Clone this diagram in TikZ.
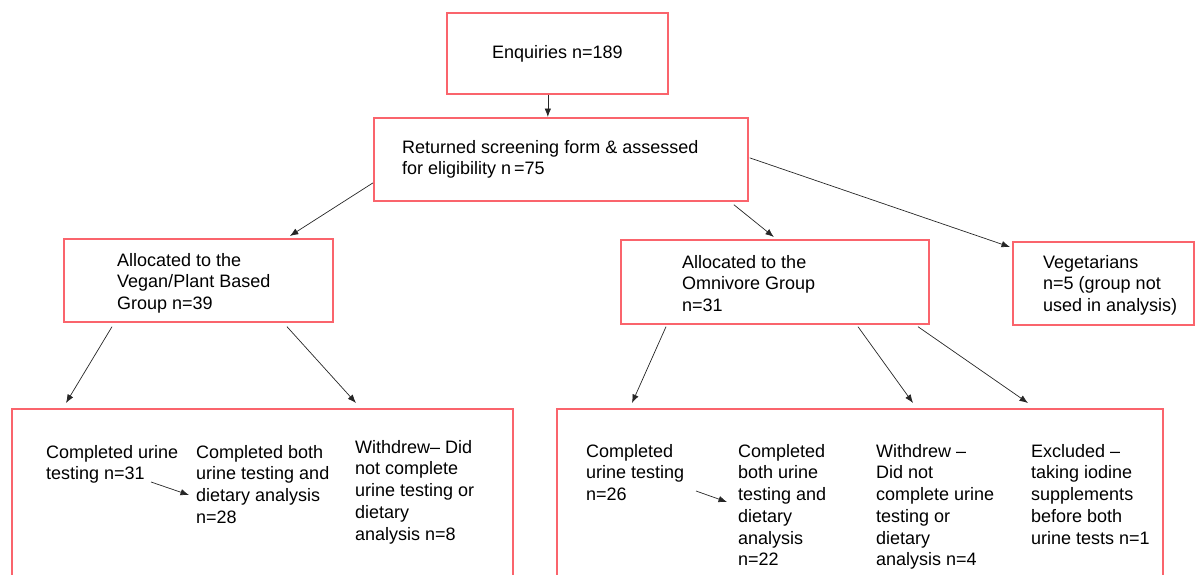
\documentclass[tikz,border=0pt]{standalone}
\usepackage{fontspec}
\setmainfont{Liberation Sans}
\usetikzlibrary{positioning,arrows.meta}
\definecolor{boxred}{RGB}{250,100,108}
\tikzset{
  flowbox/.style={draw=boxred,line width=1.7pt,inner sep=0pt,anchor=north west,
    font=\fontsize{18}{21.7}\selectfont},
  txt/.style={anchor=north west,inner sep=0pt,align=left,
    font=\fontsize{18}{21.7}\selectfont},
  arr/.style={-{Latex[length=8.5pt,width=6.5pt]},draw=black!85,line width=0.7pt}
}
\begin{document}
\begin{tikzpicture}[x=1pt,y=-1pt]
  \useasboundingbox (0,0) rectangle (1195,574);
  \clip (0,0) rectangle (1195,574);
  % boxes
  \node[flowbox,minimum width=221,minimum height=81] (enq) at (446,12) {Enquiries n=189};
  \node[flowbox,minimum width=374,minimum height=83] (scr) at (373,117) {};
  \node[flowbox,minimum width=269,minimum height=83] (vegan) at (63,238) {};
  \node[flowbox,minimum width=308,minimum height=84] (omni) at (620,239) {};
  \node[flowbox,minimum width=181,minimum height=83] (vegt) at (1012,241) {};
  \node[flowbox,minimum width=501,minimum height=200] (bl) at (11,408) {};
  \node[flowbox,minimum width=606,minimum height=200] (br) at (556,408) {};
  % texts
  \node[txt] (scrtxt) at (402,140) {Returned screening form \& assessed\\for eligibility n\,=75};
  \node[txt] (vegantxt) at (117,253) {Allocated to the\\Vegan/Plant Based\\Group n=39};
  \node[txt] (omnitxt) at (682,255) {Allocated to the\\Omnivore Group\\n=31};
  \node[txt] (vegttxt) at (1043,255) {Vegetarians\\n=5 (group not\\used in analysis)};
  \node[txt] (c1) at (46,445) {Completed urine\\testing n=31};
  \node[txt] (c2) at (196,445) {Completed both\\urine testing and\\dietary analysis\\n=28};
  \node[txt] (c3) at (355,440) {Withdrew-- Did\\not complete\\urine testing or\\dietary\\analysis n=8};
  \node[txt] (d1) at (586,444) {Completed\\urine testing\\n=26};
  \node[txt] (d2) at (738,444) {Completed\\both urine\\testing and\\dietary\\analysis\\n=22};
  \node[txt] (d3) at (876,444) {Withdrew --\\Did not\\complete urine\\testing or\\dietary\\analysis n=4};
  \node[txt] (d4) at (1031,444) {Excluded --\\taking iodine\\supplements\\before both\\urine tests n=1};
  % arrows
  \draw[arr] ([xshift=-9.5]enq.south) -- ([xshift=-13]scr.north);
  \draw[arr] ([yshift=-23.5]scr.west) -- ([shift={(91.5,-2)}]vegan.north);
  \draw[arr] ([shift={(173,3)}]scr.south) -- ([shift={(-1,-2)}]omni.north);
  \draw[arr] ([shift={(1,-1.5)}]scr.east) -- ([shift={(-2,6)}]vegt.north west);
  \draw[arr] ([shift={(49,4)}]vegan.south west) -- ([shift={(55,-5)}]bl.north west);
  \draw[arr] ([shift={(224,4)}]vegan.south west) -- ([shift={(345,-5)}]bl.north west);
  \draw[arr] ([shift={(46,2)}]omni.south west) -- ([shift={(76,-5)}]br.north west);
  \draw[arr] ([shift={(238,2)}]omni.south west) -- ([shift={(357,-5)}]br.north west);
  \draw[arr] ([shift={(298,2)}]omni.south west) -- ([shift={(472,-5)}]br.north west);
  \draw[arr] ([shift={(105,37)}]c1.north west) -- ([shift={(-7,50)}]c2.north west);
  \draw[arr] ([shift={(110,47)}]d1.north west) -- ([shift={(-11,58)}]d2.north west);
\end{tikzpicture}
\end{document}
